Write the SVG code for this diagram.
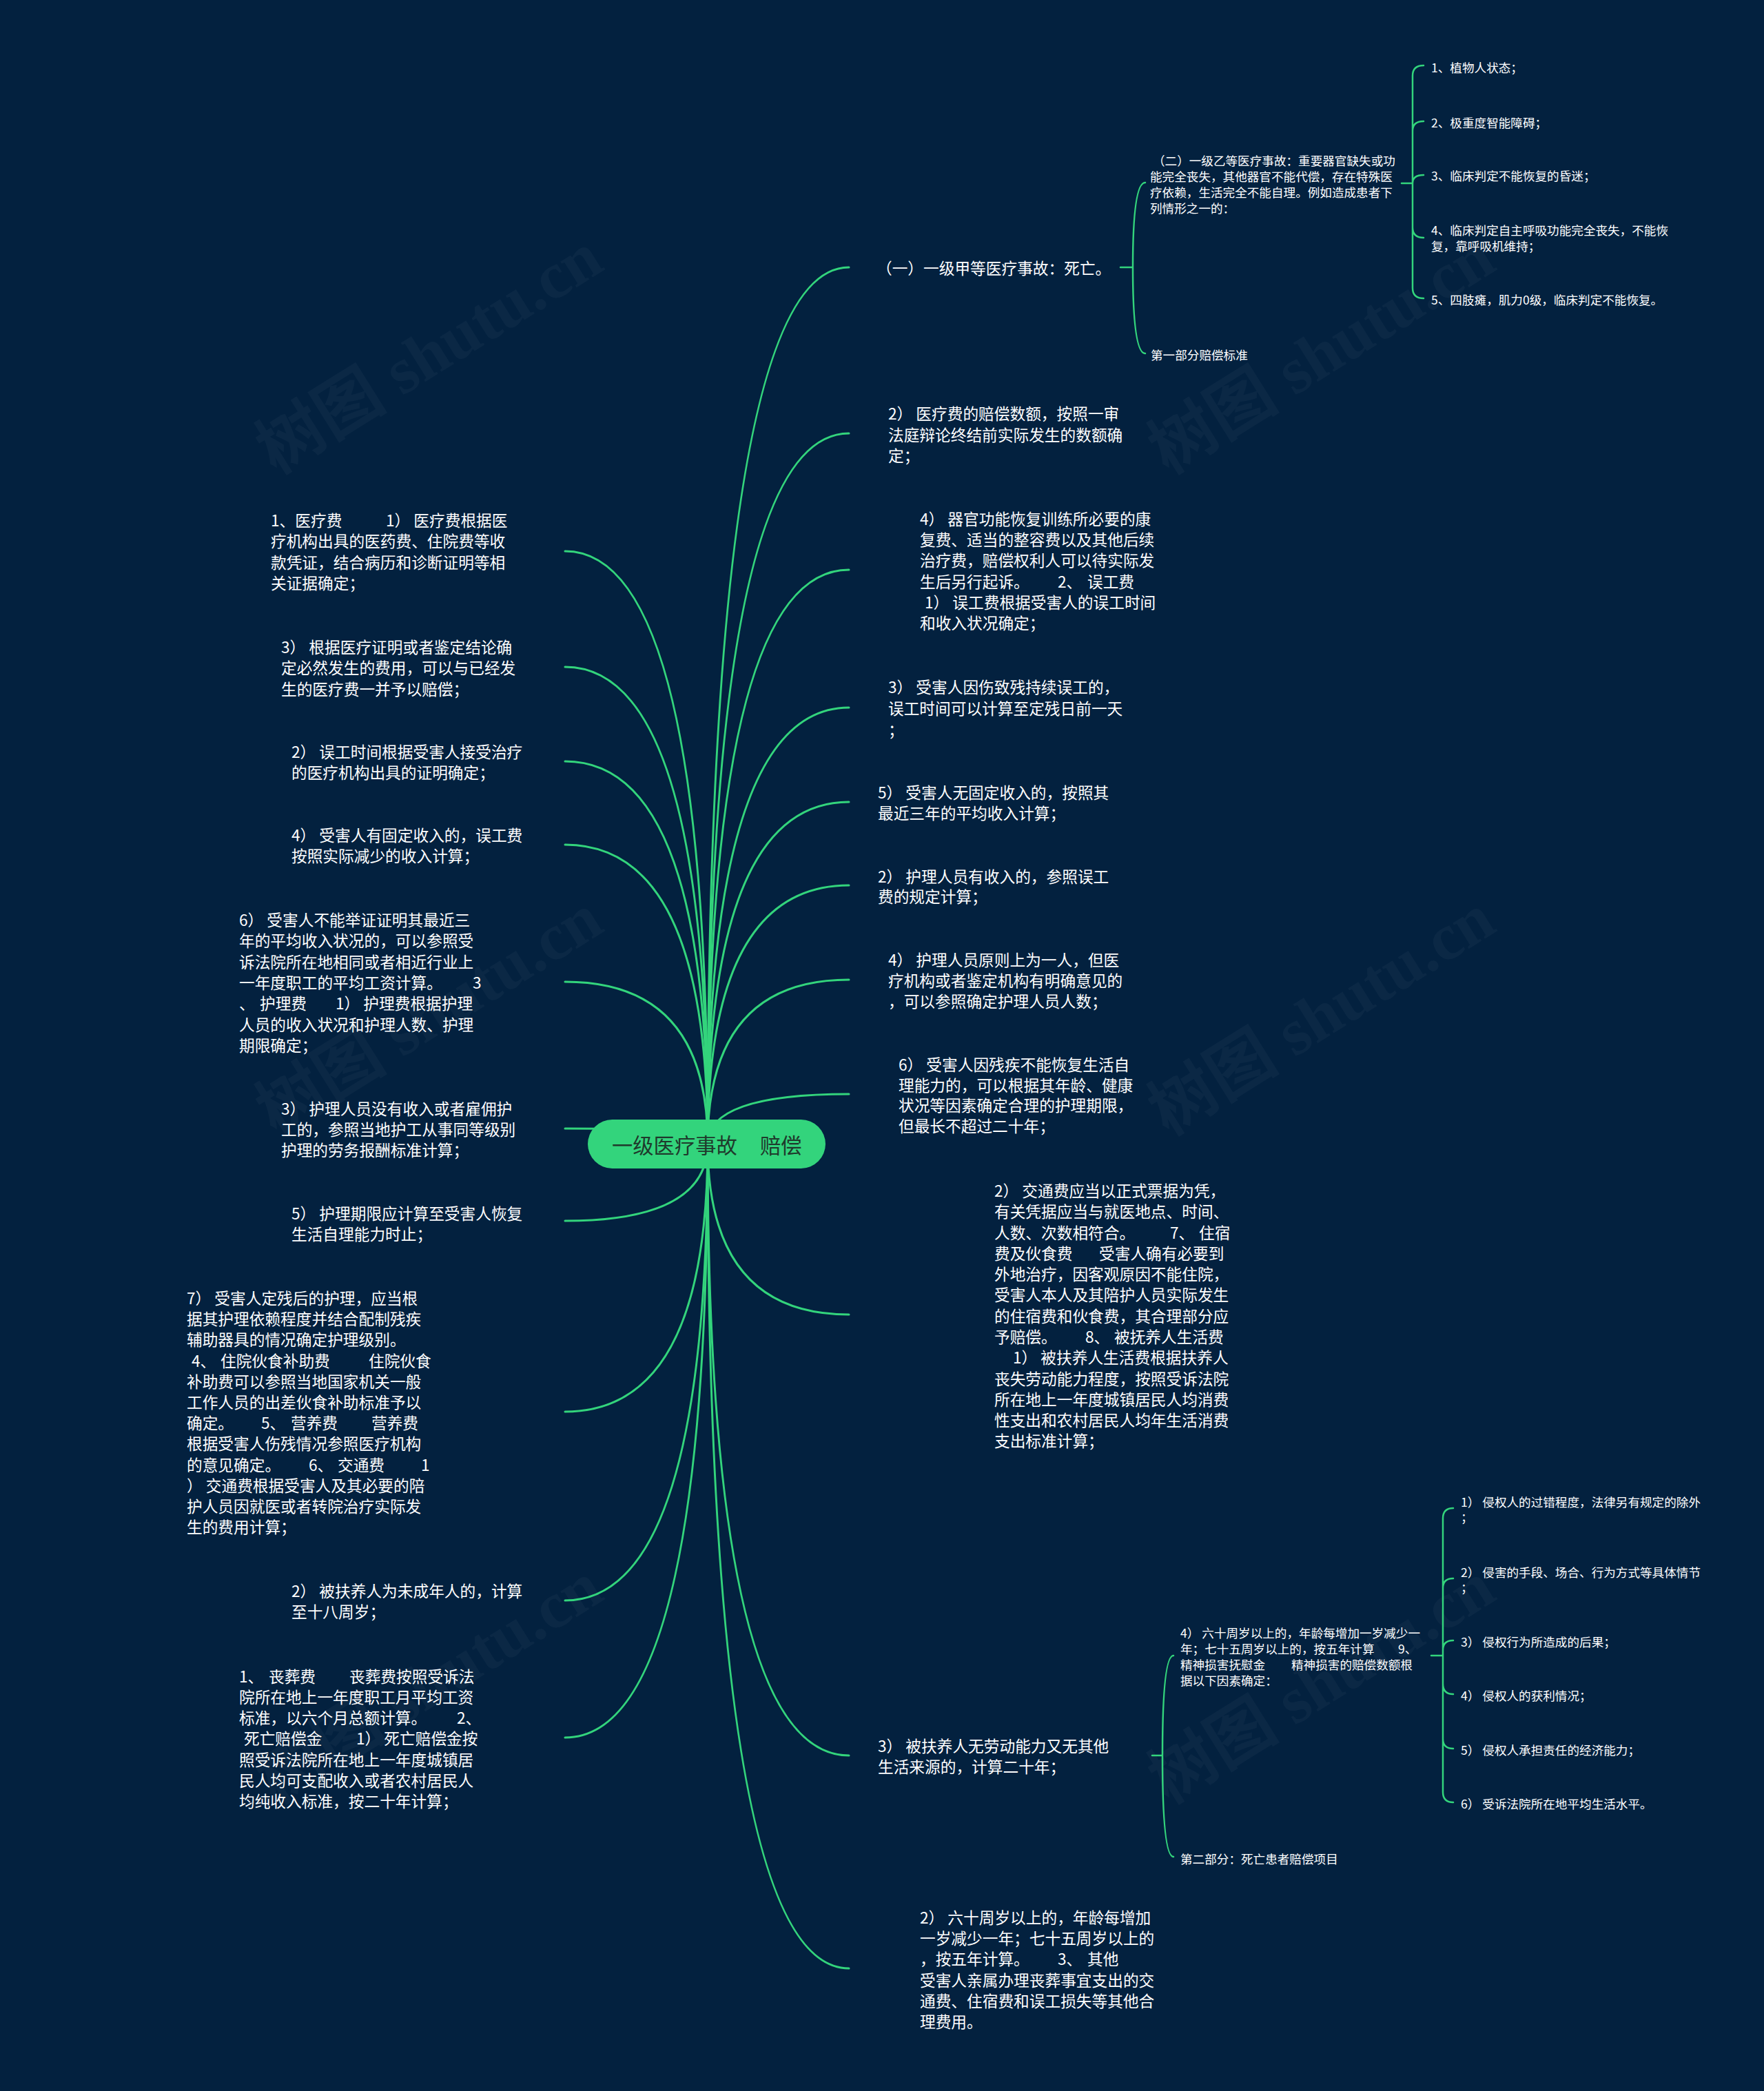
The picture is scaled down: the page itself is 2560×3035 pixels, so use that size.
<svg xmlns="http://www.w3.org/2000/svg" width="2560" height="3035" viewBox="0 0 2560 3035">
<style>
.t{font-family:"Noto Sans CJK SC","Liberation Sans",sans-serif;fill:#ffffff;white-space:pre;dominant-baseline:central}
.m{font-size:22.7px}
.s{font-size:17.6px}
.c{fill:none;stroke:#33d47c;stroke-width:3;stroke-linecap:round}
.b{fill:none;stroke:#33d47c;stroke-width:2.5;stroke-linecap:round}
.w{font-family:"Liberation Serif","Noto Sans CJK SC",serif;font-size:96px;font-weight:bold;fill:#ffffff;fill-opacity:0.035}
</style>
<rect x="0" y="0" width="2560" height="3035" fill="#03213f"/>
<g id="watermarks">
<text class="w" x="640" y="540" text-anchor="middle" transform="rotate(-32 640 540)">树图 shutu.cn</text>
<text class="w" x="1935" y="540" text-anchor="middle" transform="rotate(-32 1935 540)">树图 shutu.cn</text>
<text class="w" x="640" y="1500" text-anchor="middle" transform="rotate(-32 640 1500)">树图 shutu.cn</text>
<text class="w" x="1935" y="1500" text-anchor="middle" transform="rotate(-32 1935 1500)">树图 shutu.cn</text>
<text class="w" x="640" y="2470" text-anchor="middle" transform="rotate(-32 640 2470)">树图 shutu.cn</text>
<text class="w" x="1935" y="2470" text-anchor="middle" transform="rotate(-32 1935 2470)">树图 shutu.cn</text>
</g>
<g id="connectors">
<path class="c" d="M1027,1660 Q1027,388 1232,388"/>
<path class="c" d="M1027,1660 Q1027,629 1232,629"/>
<path class="c" d="M1027,1660 Q1027,827 1232,827"/>
<path class="c" d="M1027,1660 Q1027,1027 1232,1027"/>
<path class="c" d="M1027,1660 Q1027,1164 1232,1164"/>
<path class="c" d="M1027,1660 Q1027,1285 1232,1285"/>
<path class="c" d="M1027,1660 Q1027,1422 1232,1422"/>
<path class="c" d="M1027,1660 Q1027,1588 1232,1588"/>
<path class="c" d="M1027,1660 Q1027,1908 1232,1908"/>
<path class="c" d="M1027,1660 Q1027,2548 1232,2548"/>
<path class="c" d="M1027,1660 Q1027,2857 1232,2857"/>
<path class="c" d="M1027,1660 Q1027,800 820,800"/>
<path class="c" d="M1027,1660 Q1027,968 820,968"/>
<path class="c" d="M1027,1660 Q1027,1105 820,1105"/>
<path class="c" d="M1027,1660 Q1027,1226 820,1226"/>
<path class="c" d="M1027,1660 Q1027,1425 820,1425"/>
<path class="c" d="M1027,1660 Q1027,1638 820,1638"/>
<path class="c" d="M1027,1660 Q1027,1772 820,1772"/>
<path class="c" d="M1027,1660 Q1027,2049 820,2049"/>
<path class="c" d="M1027,1660 Q1027,2323 820,2323"/>
<path class="c" d="M1027,1660 Q1027,2522 820,2522"/>
<path class="b" d="M1626,388 H1644 M1644,388 Q1644,265 1662,265 M1644,388 Q1644,513 1662,513"/>
<path class="b" d="M2034,266 H2050 M2050,266 V110 Q2050,95 2066,95 M2050,266 V190 Q2050,176 2066,176 M2050,266 Q2050,254 2066,254 M2050,266 V330 Q2050,345 2066,345 M2050,266 V418 Q2050,433 2066,433"/>
<path class="b" d="M1672,2548 H1687 M1687,2548 Q1687,2403 1703,2403 M1687,2548 Q1687,2695 1703,2695"/>
<path class="b" d="M2077,2403 H2094 M2094,2403 V2204 Q2094,2189 2109,2189 M2094,2403 V2305 Q2094,2291 2109,2291 M2094,2403 V2395 Q2094,2381 2109,2381 M2094,2403 V2444 Q2094,2459 2109,2459 M2094,2403 V2524 Q2094,2538 2109,2538 M2094,2403 V2601 Q2094,2616 2109,2616"/>
</g>
<g id="root">
<rect x="853" y="1625" width="345" height="71" rx="35.5" fill="#33d47c"/>
<text class="t" style="font-size:30.3px;fill:#1f3a2c" y="1661"><tspan x="888">一级医疗事故</tspan><tspan x="1103">赔偿</tspan></text>
</g>
<g id="r1">
<text class="t m" x="1272" y="388">（一）一级甲等医疗事故：死亡。</text>
</g>
<g id="r1a">
<text class="t s" x="1669" y="232"> （二）一级乙等医疗事故：重要器官缺失或功</text>
<text class="t s" x="1669" y="255">能完全丧失，其他器官不能代偿，存在特殊医</text>
<text class="t s" x="1669" y="278">疗依赖，生活完全不能自理。例如造成患者下</text>
<text class="t s" x="1669" y="301">列情形之一的：</text>
</g>
<g id="r1a1"><text class="t s" x="2077" y="97">1、植物人状态；</text></g>
<g id="r1a2"><text class="t s" x="2077" y="177">2、极重度智能障碍；</text></g>
<g id="r1a3"><text class="t s" x="2077" y="254">3、临床判定不能恢复的昏迷；</text></g>
<g id="r1a4">
<text class="t s" x="2077" y="333">4、临床判定自主呼吸功能完全丧失，不能恢</text>
<text class="t s" x="2077" y="356">复，靠呼吸机维持；</text>
</g>
<g id="r1a5"><text class="t s" x="2077" y="434">5、四肢瘫，肌力0级，临床判定不能恢复。</text></g>
<g id="r1b"><text class="t s" x="1670" y="514">第一部分赔偿标准</text></g>
<g id="r2">
<text class="t m" x="1289" y="599">2） 医疗费的赔偿数额，按照一审</text>
<text class="t m" x="1289" y="630">法庭辩论终结前实际发生的数额确</text>
<text class="t m" x="1289" y="660">定；</text>
</g>
<g id="r3">
<text class="t m" x="1335" y="752">4） 器官功能恢复训练所必要的康</text>
<text class="t m" x="1335" y="782">复费、适当的整容费以及其他后续</text>
<text class="t m" x="1335" y="812">治疗费，赔偿权利人可以待实际发</text>
<text class="t m" y="843"><tspan x="1335">生后另行起诉。</tspan><tspan x="1535">2、</tspan><tspan x="1578">误工费</tspan></text>
<text class="t m" x="1342" y="873">1） 误工费根据受害人的误工时间</text>
<text class="t m" x="1335" y="903">和收入状况确定；</text>
</g>
<g id="r4">
<text class="t m" x="1289" y="996">3） 受害人因伤致残持续误工的，</text>
<text class="t m" x="1289" y="1027">误工时间可以计算至定残日前一天</text>
<text class="t m" x="1289" y="1058">；</text>
</g>
<g id="r5">
<text class="t m" x="1274" y="1149">5） 受害人无固定收入的，按照其</text>
<text class="t m" x="1274" y="1179">最近三年的平均收入计算；</text>
</g>
<g id="r6">
<text class="t m" x="1274" y="1271">2） 护理人员有收入的，参照误工</text>
<text class="t m" x="1274" y="1300">费的规定计算；</text>
</g>
<g id="r7">
<text class="t m" x="1289" y="1392">4） 护理人员原则上为一人，但医</text>
<text class="t m" x="1289" y="1422">疗机构或者鉴定机构有明确意见的</text>
<text class="t m" x="1289" y="1452">，可以参照确定护理人员人数；</text>
</g>
<g id="r8">
<text class="t m" x="1304" y="1544">6） 受害人因残疾不能恢复生活自</text>
<text class="t m" x="1304" y="1574">理能力的，可以根据其年龄、健康</text>
<text class="t m" x="1304" y="1603">状况等因素确定合理的护理期限，</text>
<text class="t m" x="1304" y="1633">但最长不超过二十年；</text>
</g>
<g id="r9">
<text class="t m" x="1443" y="1727">2） 交通费应当以正式票据为凭，</text>
<text class="t m" x="1443" y="1757">有关凭据应当与就医地点、时间、</text>
<text class="t m" y="1788"><tspan x="1443">人数、次数相符合。</tspan><tspan x="1698">7、</tspan><tspan x="1740">住宿</tspan></text>
<text class="t m" y="1818"><tspan x="1443">费及伙食费</tspan><tspan x="1595">受害人确有必要到</tspan></text>
<text class="t m" x="1443" y="1848">外地治疗，因客观原因不能住院，</text>
<text class="t m" x="1443" y="1878">受害人本人及其陪护人员实际发生</text>
<text class="t m" x="1443" y="1909">的住宿费和伙食费，其合理部分应</text>
<text class="t m" y="1939"><tspan x="1443">予赔偿。</tspan><tspan x="1575">8、</tspan><tspan x="1617">被抚养人生活费</tspan></text>
<text class="t m" x="1470" y="1969">1） 被扶养人生活费根据扶养人</text>
<text class="t m" x="1443" y="2000">丧失劳动能力程度，按照受诉法院</text>
<text class="t m" x="1443" y="2030">所在地上一年度城镇居民人均消费</text>
<text class="t m" x="1443" y="2060">性支出和农村居民人均年生活消费</text>
<text class="t m" x="1443" y="2090">支出标准计算；</text>
</g>
<g id="r10">
<text class="t m" x="1274" y="2533">3） 被扶养人无劳动能力又无其他</text>
<text class="t m" x="1274" y="2563">生活来源的，计算二十年；</text>
</g>
<g id="r10a">
<text class="t s" x="1713" y="2369">4） 六十周岁以上的，年龄每增加一岁减少一</text>
<text class="t s" y="2392"><tspan x="1713">年；七十五周岁以上的，按五年计算</tspan><tspan x="2029">9、</tspan></text>
<text class="t s" y="2415"><tspan x="1713">精神损害抚慰金</tspan><tspan x="1874">精神损害的赔偿数额根</tspan></text>
<text class="t s" x="1713" y="2438">据以下因素确定：</text>
</g>
<g id="r10a1">
<text class="t s" x="2120" y="2179">1） 侵权人的过错程度，法律另有规定的除外</text>
<text class="t s" x="2120" y="2201">；</text>
</g>
<g id="r10a2">
<text class="t s" x="2120" y="2281">2） 侵害的手段、场合、行为方式等具体情节</text>
<text class="t s" x="2120" y="2303">；</text>
</g>
<g id="r10a3"><text class="t s" x="2120" y="2382">3） 侵权行为所造成的后果；</text></g>
<g id="r10a4"><text class="t s" x="2120" y="2460">4） 侵权人的获利情况；</text></g>
<g id="r10a5"><text class="t s" x="2120" y="2539">5） 侵权人承担责任的经济能力；</text></g>
<g id="r10a6"><text class="t s" x="2120" y="2617">6） 受诉法院所在地平均生活水平。</text></g>
<g id="r10b"><text class="t s" x="1713" y="2697">第二部分：死亡患者赔偿项目</text></g>
<g id="r11">
<text class="t m" x="1335" y="2782">2） 六十周岁以上的，年龄每增加</text>
<text class="t m" x="1335" y="2812">一岁减少一年；七十五周岁以上的</text>
<text class="t m" y="2842"><tspan x="1335">，按五年计算。</tspan><tspan x="1535">3、</tspan><tspan x="1578">其他</tspan></text>
<text class="t m" x="1335" y="2873">受害人亲属办理丧葬事宜支出的交</text>
<text class="t m" x="1335" y="2903">通费、住宿费和误工损失等其他合</text>
<text class="t m" x="1335" y="2933">理费用。</text>
</g>
<g id="l1">
<text class="t m" y="754"><tspan x="393">1、医疗费</tspan><tspan x="560">1） 医疗费根据医</tspan></text>
<text class="t m" x="393" y="784">疗机构出具的医药费、住院费等收</text>
<text class="t m" x="393" y="815">款凭证，结合病历和诊断证明等相</text>
<text class="t m" x="393" y="845">关证据确定；</text>
</g>
<g id="l2">
<text class="t m" x="408" y="938">3） 根据医疗证明或者鉴定结论确</text>
<text class="t m" x="408" y="968">定必然发生的费用，可以与已经发</text>
<text class="t m" x="408" y="999">生的医疗费一并予以赔偿；</text>
</g>
<g id="l3">
<text class="t m" x="423" y="1090">2） 误工时间根据受害人接受治疗</text>
<text class="t m" x="423" y="1120">的医疗机构出具的证明确定；</text>
</g>
<g id="l4">
<text class="t m" x="423" y="1211">4） 受害人有固定收入的，误工费</text>
<text class="t m" x="423" y="1241">按照实际减少的收入计算；</text>
</g>
<g id="l5">
<text class="t m" x="347" y="1334">6） 受害人不能举证证明其最近三</text>
<text class="t m" x="347" y="1364">年的平均收入状况的，可以参照受</text>
<text class="t m" x="347" y="1395">诉法院所在地相同或者相近行业上</text>
<text class="t m" y="1425"><tspan x="347">一年度职工的平均工资计算。</tspan><tspan x="686">3</tspan></text>
<text class="t m" y="1455"><tspan x="347">、</tspan><tspan x="377">护理费</tspan><tspan x="487">1） 护理费根据护理</tspan></text>
<text class="t m" x="347" y="1486">人员的收入状况和护理人数、护理</text>
<text class="t m" x="347" y="1516">期限确定；</text>
</g>
<g id="l6">
<text class="t m" x="408" y="1608">3） 护理人员没有收入或者雇佣护</text>
<text class="t m" x="408" y="1638">工的，参照当地护工从事同等级别</text>
<text class="t m" x="408" y="1668">护理的劳务报酬标准计算；</text>
</g>
<g id="l7">
<text class="t m" x="423" y="1760">5） 护理期限应计算至受害人恢复</text>
<text class="t m" x="423" y="1790">生活自理能力时止；</text>
</g>
<g id="l8">
<text class="t m" x="271" y="1883">7） 受害人定残后的护理，应当根</text>
<text class="t m" x="271" y="1913">据其护理依赖程度并结合配制残疾</text>
<text class="t m" x="271" y="1943">辅助器具的情况确定护理级别。</text>
<text class="t m" y="1974"><tspan x="278">4、</tspan><tspan x="320">住院伙食补助费</tspan><tspan x="535">住院伙食</tspan></text>
<text class="t m" x="271" y="2004">补助费可以参照当地国家机关一般</text>
<text class="t m" x="271" y="2034">工作人员的出差伙食补助标准予以</text>
<text class="t m" y="2064"><tspan x="271">确定。</tspan><tspan x="379">5、</tspan><tspan x="422">营养费</tspan><tspan x="539">营养费</tspan></text>
<text class="t m" x="271" y="2094">根据受害人伤残情况参照医疗机构</text>
<text class="t m" y="2125"><tspan x="271">的意见确定。</tspan><tspan x="448">6、</tspan><tspan x="490">交通费</tspan><tspan x="611">1</tspan></text>
<text class="t m" x="271" y="2155">） 交通费根据受害人及其必要的陪</text>
<text class="t m" x="271" y="2185">护人员因就医或者转院治疗实际发</text>
<text class="t m" x="271" y="2215">生的费用计算；</text>
</g>
<g id="l9">
<text class="t m" x="423" y="2308">2） 被扶养人为未成年人的，计算</text>
<text class="t m" x="423" y="2338">至十八周岁；</text>
</g>
<g id="l10">
<text class="t m" y="2432"><tspan x="347">1、</tspan><tspan x="390">丧葬费</tspan><tspan x="507">丧葬费按照受诉法</tspan></text>
<text class="t m" x="347" y="2462">院所在地上一年度职工月平均工资</text>
<text class="t m" y="2492"><tspan x="347">标准，以六个月总额计算。</tspan><tspan x="663">2、</tspan></text>
<text class="t m" y="2522"><tspan x="354">死亡赔偿金</tspan><tspan x="517">1） 死亡赔偿金按</tspan></text>
<text class="t m" x="347" y="2553">照受诉法院所在地上一年度城镇居</text>
<text class="t m" x="347" y="2583">民人均可支配收入或者农村居民人</text>
<text class="t m" x="347" y="2613">均纯收入标准，按二十年计算；</text>
</g>
</svg>
